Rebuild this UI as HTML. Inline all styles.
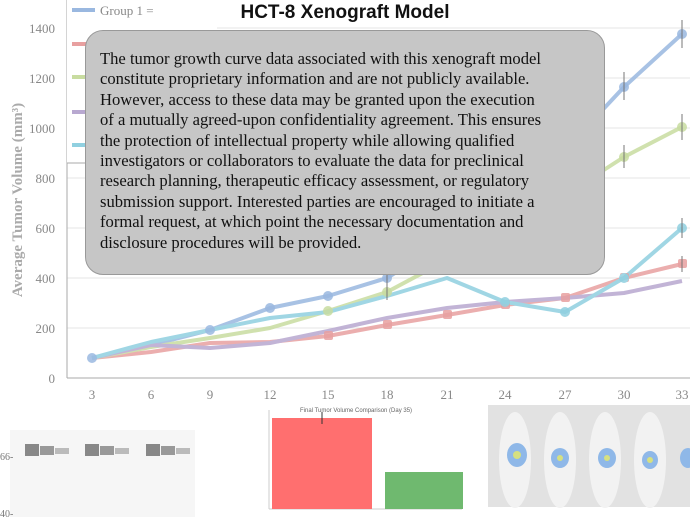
<!DOCTYPE html>
<html><head><meta charset="utf-8"><style>
body{margin:0;width:690px;height:517px;background:#fff;overflow:hidden;position:relative;font-family:"Liberation Serif",serif}
.box{position:absolute;left:85px;top:30px;width:520px;height:245px;box-sizing:border-box;background:#c6c6c6;border:1px solid #999;border-radius:18px;padding:18px 0 0 14px;font-size:16.6px;line-height:20.4px;color:#111}
.title{position:absolute;left:0;width:690px;top:2px;text-align:center;font:bold 19px "Liberation Sans",sans-serif;color:#111}
</style></head><body>
<svg width="690" height="517" style="position:absolute;left:0;top:0">
<g stroke="#e6e6e6" stroke-width="1">
<line x1="67" y1="28" x2="690" y2="28"/><line x1="67" y1="78" x2="690" y2="78"/><line x1="67" y1="128" x2="690" y2="128"/><line x1="67" y1="178" x2="690" y2="178"/><line x1="67" y1="228" x2="690" y2="228"/><line x1="67" y1="278" x2="690" y2="278"/><line x1="67" y1="328" x2="690" y2="328"/>
</g>
<line x1="67" y1="0" x2="67" y2="378" stroke="#aaa"/><line x1="67" y1="378" x2="690" y2="378" stroke="#aaa"/>
<g font-family="Liberation Serif" font-size="13" fill="#888" text-anchor="end">
<text x="55" y="33">1400</text><text x="55" y="133">1000</text><text x="55" y="233">600</text><text x="55" y="283">400</text><text x="55" y="333">200</text><text x="55" y="383">0</text><text x="55" y="83">1200</text><text x="55" y="183">800</text>
</g>
<g font-family="Liberation Serif" font-size="13" fill="#888" text-anchor="middle">
<text x="92" y="399">3</text><text x="151" y="399">6</text><text x="210" y="399">9</text><text x="270" y="399">12</text><text x="328" y="399">15</text><text x="387" y="399">18</text><text x="447" y="399">21</text><text x="505" y="399">24</text><text x="565" y="399">27</text><text x="624" y="399">30</text><text x="682" y="399">33</text>
</g>
<text transform="translate(22,200) rotate(-90)" text-anchor="middle" font-family="Liberation Serif" font-weight="bold" font-size="15" fill="#aaa">Average Tumor Volume (mm³)</text>
<rect x="67" y="-2" width="150" height="165" fill="#fff"/>
<line x1="67" y1="163" x2="217" y2="163" stroke="#aaa"/>
<g stroke-width="4"><line x1="72" y1="10" x2="95" y2="10" stroke="#9ab8e0"/><line x1="72" y1="44" x2="95" y2="44" stroke="#e8a0a0"/><line x1="72" y1="77" x2="95" y2="77" stroke="#c8dca0"/><line x1="72" y1="112" x2="95" y2="112" stroke="#b8a8d0"/><line x1="72" y1="145" x2="95" y2="145" stroke="#90d0e0"/></g>
<text x="100" y="15" font-size="13" fill="#888">Group 1 =</text>
<g stroke-width="4" stroke-linejoin="round" fill="none" opacity="0.85">
<polyline stroke="#9ab8e0" points="92,358 151,345 210,330 270,308 328,296 387,278 447,240 505,200 565,150 624,87 682,34"/>
<polyline stroke="#e8a0a0" points="92,358 151,352 210,343 270,342 328,336 387,325 447,315 505,305 565,298 624,278 682,264"/>
<polyline stroke="#c8dca0" points="92,358 151,347 210,338 270,328 328,311 387,292 447,260 505,230 565,195 624,157 682,127"/>
<polyline stroke="#b8a8d0" points="92,358 151,345 210,348 270,343 328,331 387,318 447,308 505,302 565,298 624,293 682,281"/>
<polyline stroke="#90d0e0" points="92,358 151,342 210,330 270,318 328,312 387,296 447,278 505,302 565,312 624,278 682,228"/>
</g>
<g opacity="0.85">
<g fill="#9ab8e0"><circle cx="92" cy="358" r="5"/><circle cx="210" cy="330" r="5"/><circle cx="270" cy="308" r="5"/><circle cx="328" cy="296" r="5"/><circle cx="387" cy="278" r="5"/><circle cx="624" cy="87" r="5"/><circle cx="682" cy="34" r="5"/></g>
<g fill="#e8a0a0"><rect x="324" y="331" width="9" height="9" rx="2"/><rect x="383" y="320" width="9" height="9" rx="2"/><rect x="443" y="310" width="9" height="9" rx="2"/><rect x="501" y="300" width="9" height="9" rx="2"/><rect x="561" y="293" width="9" height="9" rx="2"/><rect x="620" y="273" width="9" height="9" rx="2"/><rect x="678" y="259" width="9" height="9" rx="2"/></g>
<g fill="#c8dca0"><circle cx="624" cy="157" r="5"/><circle cx="682" cy="127" r="5"/><circle cx="328" cy="311" r="5"/><circle cx="387" cy="292" r="5"/></g>
<g fill="#90d0e0"><circle cx="565" cy="312" r="5"/><circle cx="505" cy="302" r="5"/><circle cx="682" cy="228" r="5"/><circle cx="624" cy="278" r="5"/></g>
</g>
<g stroke="#777" stroke-width="1"><line x1="682" y1="20" x2="682" y2="48"/><line x1="682" y1="114" x2="682" y2="140"/><line x1="624" y1="72" x2="624" y2="100"/><line x1="624" y1="145" x2="624" y2="168"/><line x1="682" y1="218" x2="682" y2="238"/><line x1="682" y1="256" x2="682" y2="272"/><line x1="387" y1="268" x2="387" y2="300"/></g>
<!-- gel -->
<rect x="10" y="430" width="185" height="87" fill="#f6f6f6"/>
<g fill="#888"><rect x="25" y="444" width="14" height="12"/><rect x="40" y="446" width="14" height="9" fill="#999"/><rect x="55" y="448" width="14" height="6" fill="#bbb"/>
<rect x="85" y="444" width="14" height="12"/><rect x="100" y="446" width="14" height="9" fill="#999"/><rect x="115" y="448" width="14" height="6" fill="#bbb"/>
<rect x="146" y="444" width="14" height="12"/><rect x="161" y="446" width="14" height="9" fill="#999"/><rect x="176" y="448" width="14" height="6" fill="#bbb"/></g>
<text x="0" y="460" font-size="10" fill="#777">66-</text><text x="0" y="517" font-size="10" fill="#777">40-</text>
<!-- bar chart -->
<text x="300" y="412" font-family="Liberation Sans" font-size="6" fill="#666">Final Tumor Volume Comparison (Day 35)</text>
<line x1="269" y1="410" x2="269" y2="509" stroke="#ccc"/><line x1="269" y1="509" x2="462" y2="509" stroke="#ccc"/>
<rect x="272" y="418" width="100" height="91" fill="#ff6f6f"/>
<rect x="385" y="472" width="78" height="37" fill="#6fb96f"/>
<line x1="322" y1="412" x2="322" y2="424" stroke="#333"/>
<!-- mice -->
<rect x="488" y="405" width="202" height="102" fill="#e2e2e2"/>
<g fill="#f2f2f2"><ellipse cx="515" cy="460" rx="16" ry="48"/><ellipse cx="560" cy="460" rx="16" ry="48"/><ellipse cx="605" cy="460" rx="16" ry="48"/><ellipse cx="650" cy="460" rx="16" ry="48"/></g>
<g fill="#8fb8e8"><ellipse cx="517" cy="455" rx="10" ry="12"/><ellipse cx="560" cy="458" rx="9" ry="10"/><ellipse cx="607" cy="458" rx="9" ry="10"/><ellipse cx="650" cy="460" rx="8" ry="9"/><ellipse cx="688" cy="458" rx="8" ry="10"/></g>
<g fill="#d6e080"><circle cx="517" cy="455" r="4"/><circle cx="560" cy="458" r="3"/><circle cx="607" cy="458" r="3"/><circle cx="650" cy="460" r="3"/></g>
</svg>
<div class="title">HCT-8 Xenograft Model</div>
<div class="box">The tumor growth curve data associated with this xenograft model<br>constitute proprietary information and are not publicly available.<br>However, access to these data may be granted upon the execution<br>of a mutually agreed-upon confidentiality agreement. This ensures<br>the protection of intellectual property while allowing qualified<br>investigators or collaborators to evaluate the data for preclinical<br>research planning, therapeutic efficacy assessment, or regulatory<br>submission support. Interested parties are encouraged to initiate a<br>formal request, at which point the necessary documentation and<br>disclosure procedures will be provided.</div>
</body></html>
